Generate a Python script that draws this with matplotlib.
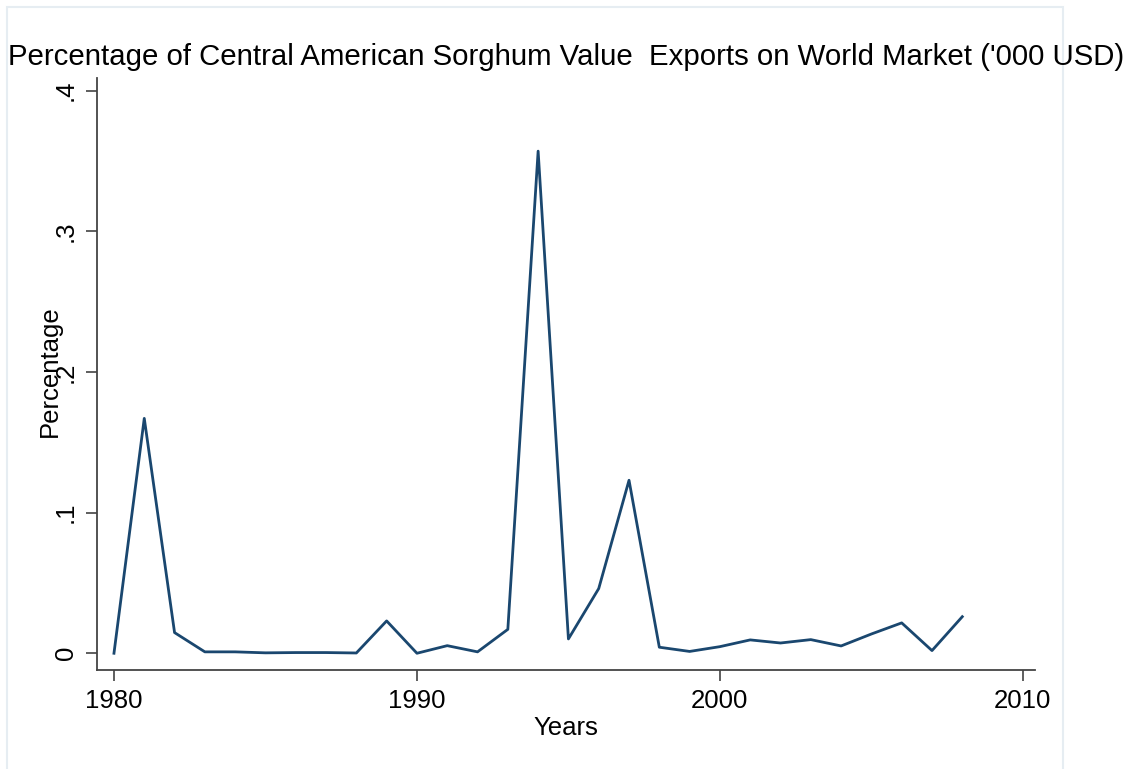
import matplotlib.pyplot as plt
from matplotlib.patches import Rectangle

plt.rcParams["font.family"] = ["Liberation Sans", "DejaVu Sans"]

years = list(range(1980, 2009))
share = [
    0.0, 0.167, 0.0147, 0.001, 0.001, 0.0003, 0.0005, 0.0005, 0.0002, 0.023,
    0.0, 0.0054, 0.001, 0.017, 0.357, 0.0102, 0.046, 0.123, 0.0043, 0.0013,
    0.0047, 0.0095, 0.0073, 0.0097, 0.0052, 0.0137, 0.0216, 0.0019, 0.026,
]
x_ticks = [1980, 1990, 2000, 2010]
y_ticks = [0, 0.1, 0.2, 0.3, 0.4]
y_tick_labels = ["0", ".1", ".2", ".3", ".4"]

W, H = 1134, 769
fig = plt.figure(figsize=(W / 100, H / 100), dpi=100)

# light outer frame
fig.patches.append(Rectangle((7 / W, -0.01), (1063 - 7) / W, (H - 7) / H + 0.01,
                             transform=fig.transFigure, fill=False,
                             edgecolor="#e6edf2", linewidth=1.5))

ax = fig.add_axes([97 / W, 1 - 670 / H, (1035 - 97) / W, (670 - 78) / H])
ax.plot(years, share, color="#1a476f", linewidth=2.0)

ax.set_xlim(1979.44, 2010.40)
ax.set_ylim(-0.0119, 0.409)
ax.set_xticks(x_ticks)
ax.set_yticks(y_ticks)
ax.set_yticklabels(y_tick_labels, rotation=90, va="center")
ax.tick_params(direction="out", length=8, width=1.1, color="#333333",
               labelsize=18.5, pad=6)

for side in ["top", "right"]:
    ax.spines[side].set_visible(False)
for side in ["left", "bottom"]:
    ax.spines[side].set_color("#444444")
    ax.spines[side].set_linewidth(1.3)

fig.text(50 / W, 1 - 371 / H, "Percentage", rotation=90, ha="center",
         va="center", fontsize=18.5)
fig.text(566 / W, 1 - 728 / H, "Years", ha="center", va="center", fontsize=18.5)
fig.text(566 / W, 1 - 57 / H,
         "Percentage of Central American Sorghum Value  Exports on World Market ('000 USD)",
         ha="center", va="center", fontsize=21.2)

fig.savefig("out.png", dpi=100)
